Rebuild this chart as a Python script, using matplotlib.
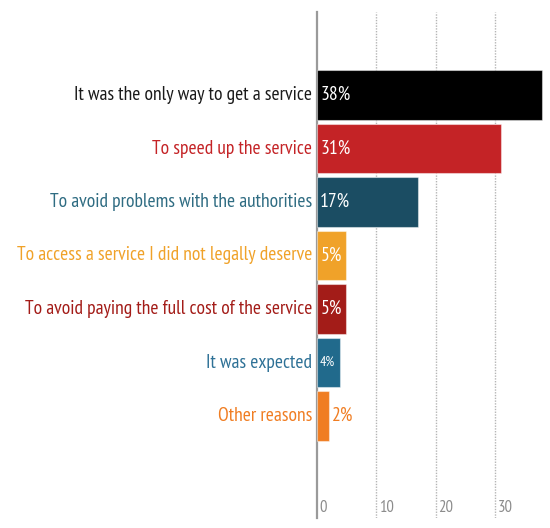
import matplotlib.pyplot as plt

reasons = [
    'It was the only way to get a service',
    'To speed up the service',
    'To avoid problems with the authorities',
    'To access a service I did not legally deserve',
    'To avoid paying the full cost of the service',
    'It was expected',
    'Other reasons',
]
shares = [38, 31, 17, 5, 5, 4, 2]
bar_colors = ['#000000', '#C42326', '#1B4D63', '#F0A229', '#A31C18', '#216A8C', '#F07D22']
text_colors = ['#1a1a1a', '#C42326', '#2F6C82', '#F0A229', '#A31C18', '#2E7196', '#F07D22']
ticks = [0, 10, 20, 30]

plt.rcParams['font.family'] = ['PT Sans Narrow', 'DejaVu Sans']

W, H = 550, 528
fig = plt.figure(figsize=(W / 100, H / 100), dpi=100)
left, right, top, bottom = 316.7, 548, 12, 518
ax = fig.add_axes([left / W, 1 - bottom / H, (right - left) / W, (bottom - top) / H])

# pixel scale
px_per_unit = 5.94
pitch = 53.5
ax.set_xlim(0, (right - left) / px_per_unit)
ax.set_ylim(6 + (bottom - 416) / pitch, -(95 - top) / pitch)

ypos = list(range(len(reasons)))
ax.barh(ypos, shares, height=0.93, color=bar_colors,
        edgecolor=(1, 1, 1, 0.45), linewidth=0.8, zorder=3)

for x in ticks[1:]:
    ax.axvline(x, color='#b5b5b5', linestyle=(0, (1, 1)), linewidth=1, zorder=1)
for x in ticks:
    ax.text(x + 0.45, 7.72, str(x), color='#8c8c8c', fontsize=12,
            ha='left', va='center')

for y, (lab, val, tc) in enumerate(zip(reasons, shares, text_colors)):
    ax.text(-0.75, y, lab, color=tc, fontsize=14, ha='right', va='center')
    if val >= 5:
        ax.text(0.6, y, f'{val}%', color='white', fontsize=14,
                ha='left', va='center', zorder=4)
    elif val >= 4:
        ax.text(0.45, y, f'{val}%', color='white', fontsize=10,
                ha='left', va='center', zorder=4)
    else:
        ax.text(val + 0.55, y, f'{val}%', color=tc, fontsize=14,
                ha='left', va='center', zorder=4)

for s in ['top', 'right', 'bottom']:
    ax.spines[s].set_visible(False)
ax.spines['left'].set_color('#9a9a9a')
ax.spines['left'].set_linewidth(1.6)
ax.set_xticks([])
ax.set_yticks([])

fig.savefig('out.png', dpi=100)
